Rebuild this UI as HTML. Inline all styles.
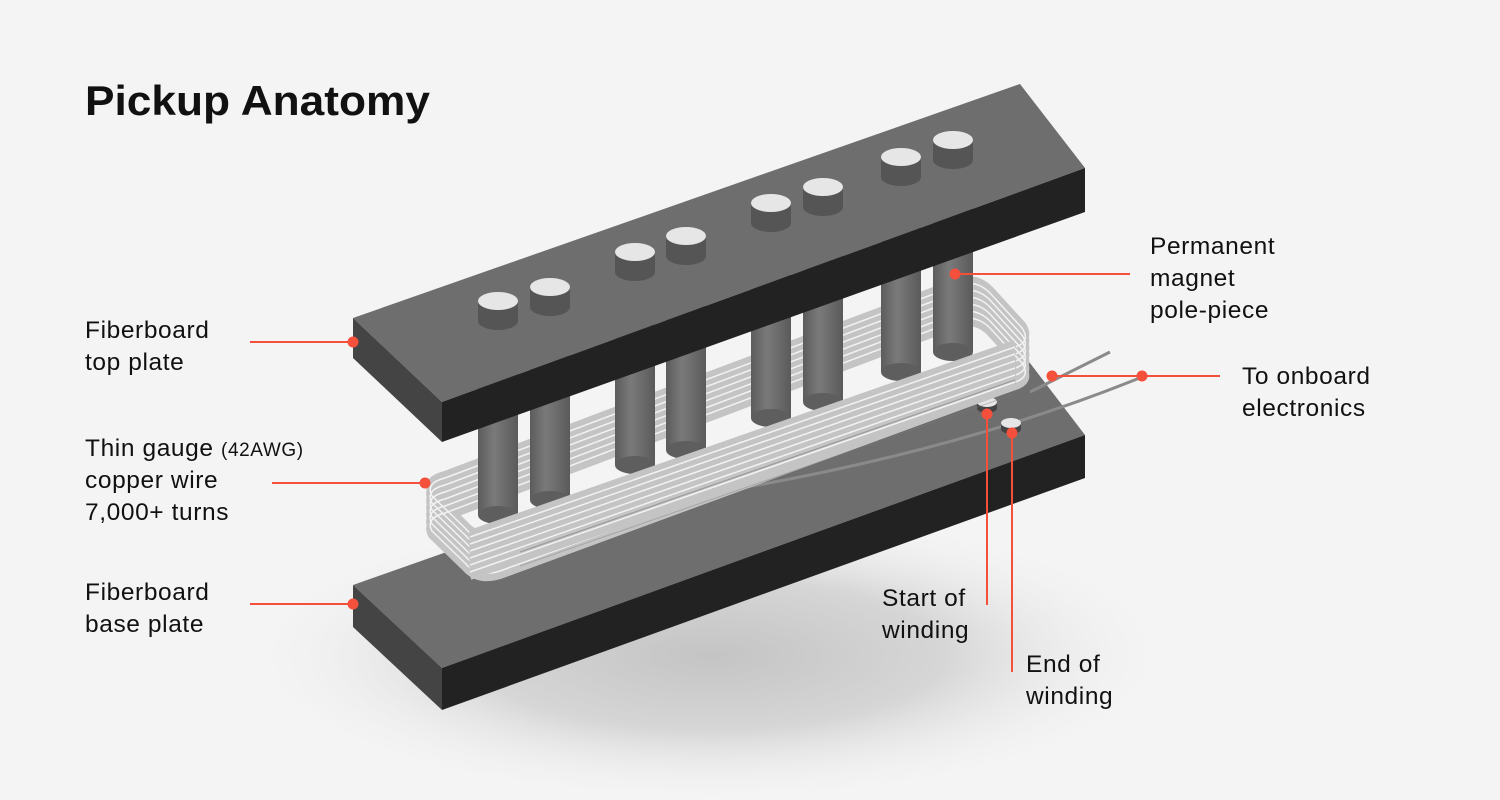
<!DOCTYPE html>
<html><head><meta charset="utf-8"><style>
html,body{margin:0;padding:0;background:#f4f4f4;}
svg{display:block}
text{font-family:"Liberation Sans",sans-serif;fill:#111;}
</style></head><body>
<svg width="1500" height="800" viewBox="0 0 1500 800" xmlns="http://www.w3.org/2000/svg">
<defs>
<radialGradient id="shadow" cx="0.5" cy="0.5" r="0.5">
<stop offset="0" stop-color="#c4c4c4"/><stop offset="0.5" stop-color="#d6d6d6"/><stop offset="1" stop-color="#f4f4f4" stop-opacity="0"/>
</radialGradient>
<linearGradient id="pole" x1="0" x2="1" y1="0" y2="0">
<stop offset="0" stop-color="#5c5c5c"/><stop offset="0.4" stop-color="#7a7a7a"/><stop offset="1" stop-color="#5a5a5a"/>
</linearGradient>
<path id="loop" d="M445,475 L955,283 Q975,275 990,290 L1022,325 Q1032,340 1012,345 L500,533 Q478,540 465,525 L432,493 Q425,480 445,475 Z"/>
</defs>
<rect width="1500" height="800" fill="#f4f4f4"/>
<ellipse cx="710" cy="655" rx="470" ry="150" fill="url(#shadow)"/>

<text x="85" y="115" font-size="42" font-weight="bold" textLength="345" lengthAdjust="spacingAndGlyphs">Pickup Anatomy</text>

<polygon points="353,585 1020,350 1085,435 442,668" fill="#6e6e6e"/>
<polygon points="442,668 1085,435 1085,478 442,710" fill="#222"/>
<polygon points="353,585 442,668 442,710 353,627" fill="#444"/>

<path d="M700,495 Q950,455 1142,377" fill="none" stroke="#8a8a8a" stroke-width="3"/>
<g>
<rect x="977" y="402" width="20" height="6" fill="#444"/><ellipse cx="987" cy="408" rx="10" ry="5" fill="#444"/><ellipse cx="987" cy="402" rx="10" ry="5" fill="#e6e6e6"/>
<rect x="1001" y="423" width="20" height="6" fill="#444"/><ellipse cx="1011" cy="429" rx="10" ry="5" fill="#444"/><ellipse cx="1011" cy="423" rx="10" ry="5" fill="#e6e6e6"/>
</g>

<g fill="none" stroke-linejoin="round">
<g stroke="#c4c4c4" stroke-width="8">
<use href="#loop" transform="translate(0,42)"/>
<use href="#loop" transform="translate(0,35)"/>
<use href="#loop" transform="translate(0,28)"/>
<use href="#loop" transform="translate(0,21)"/>
<use href="#loop" transform="translate(0,14)"/>
<use href="#loop" transform="translate(0,7)"/>
<use href="#loop"/>
</g>
<g stroke="#f2f2f2" stroke-width="1.5">
<use href="#loop" transform="translate(0,38)"/>
<use href="#loop" transform="translate(0,31)"/>
<use href="#loop" transform="translate(0,24)"/>
<use href="#loop" transform="translate(0,17)"/>
<use href="#loop" transform="translate(0,10)"/>
<use href="#loop" transform="translate(0,3)"/>
</g>
</g>

<g>
<rect x="478" y="340" width="40" height="175" fill="url(#pole)"/><ellipse cx="498" cy="515" rx="20" ry="9" fill="#5e5e5e"/>
<rect x="530" y="326" width="40" height="174" fill="url(#pole)"/><ellipse cx="550" cy="500" rx="20" ry="9" fill="#5e5e5e"/>
<rect x="615" y="292" width="40" height="173" fill="url(#pole)"/><ellipse cx="635" cy="465" rx="20" ry="9" fill="#5e5e5e"/>
<rect x="666" y="276" width="40" height="174" fill="url(#pole)"/><ellipse cx="686" cy="450" rx="20" ry="9" fill="#5e5e5e"/>
<rect x="751" y="243" width="40" height="175" fill="url(#pole)"/><ellipse cx="771" cy="418" rx="20" ry="9" fill="#5e5e5e"/>
<rect x="803" y="227" width="40" height="175" fill="url(#pole)"/><ellipse cx="823" cy="402" rx="20" ry="9" fill="#5e5e5e"/>
<rect x="881" y="197" width="40" height="175" fill="url(#pole)"/><ellipse cx="901" cy="372" rx="20" ry="9" fill="#5e5e5e"/>
<rect x="933" y="180" width="40" height="172" fill="url(#pole)"/><ellipse cx="953" cy="352" rx="20" ry="9" fill="#5e5e5e"/>
</g>

<g fill="none">
<g stroke="#c4c4c4" stroke-width="8">
<path d="M470,534 L1015,344" /><path d="M470,541 L1015,351"/><path d="M470,548 L1015,358"/><path d="M470,555 L1015,365"/><path d="M470,562 L1015,372"/><path d="M470,569 L1015,379"/><path d="M470,576 L1015,386"/>
</g>
<g stroke="#f2f2f2" stroke-width="1.5">
<path d="M470,537 L1015,347"/><path d="M470,544 L1015,354"/><path d="M470,551 L1015,361"/><path d="M470,558 L1015,368"/><path d="M470,565 L1015,375"/><path d="M470,572 L1015,382"/>
</g>
<g stroke="#7a7a7a" stroke-width="1"><path d="M520,552 L1015,380" opacity="0.6"/><path d="M520,566 L1015,394" opacity="0.4"/></g>
</g>
<path d="M1030,392 L1110,352" stroke="#8a8a8a" stroke-width="3"/>

<polygon points="353,318 1020,84 1085,168 442,402" fill="#6e6e6e"/>
<polygon points="442,402 1085,168 1085,212 442,442" fill="#222"/>
<polygon points="353,318 442,402 442,442 353,358" fill="#444"/>

<g>
<g><rect x="478" y="301" width="40" height="20" fill="#555"/><ellipse cx="498" cy="321" rx="20" ry="9" fill="#555"/><ellipse cx="498" cy="301" rx="20" ry="9" fill="#e6e6e6"/></g>
<g><rect x="530" y="287" width="40" height="20" fill="#555"/><ellipse cx="550" cy="307" rx="20" ry="9" fill="#555"/><ellipse cx="550" cy="287" rx="20" ry="9" fill="#e6e6e6"/></g>
<g><rect x="615" y="252" width="40" height="20" fill="#555"/><ellipse cx="635" cy="272" rx="20" ry="9" fill="#555"/><ellipse cx="635" cy="252" rx="20" ry="9" fill="#e6e6e6"/></g>
<g><rect x="666" y="236" width="40" height="20" fill="#555"/><ellipse cx="686" cy="256" rx="20" ry="9" fill="#555"/><ellipse cx="686" cy="236" rx="20" ry="9" fill="#e6e6e6"/></g>
<g><rect x="751" y="203" width="40" height="20" fill="#555"/><ellipse cx="771" cy="223" rx="20" ry="9" fill="#555"/><ellipse cx="771" cy="203" rx="20" ry="9" fill="#e6e6e6"/></g>
<g><rect x="803" y="187" width="40" height="20" fill="#555"/><ellipse cx="823" cy="207" rx="20" ry="9" fill="#555"/><ellipse cx="823" cy="187" rx="20" ry="9" fill="#e6e6e6"/></g>
<g><rect x="881" y="157" width="40" height="20" fill="#555"/><ellipse cx="901" cy="177" rx="20" ry="9" fill="#555"/><ellipse cx="901" cy="157" rx="20" ry="9" fill="#e6e6e6"/></g>
<g><rect x="933" y="140" width="40" height="20" fill="#555"/><ellipse cx="953" cy="160" rx="20" ry="9" fill="#555"/><ellipse cx="953" cy="140" rx="20" ry="9" fill="#e6e6e6"/></g>
</g>

<g stroke="#f4503c" stroke-width="2" fill="none">
<line x1="250" y1="342" x2="353" y2="342"/>
<line x1="272" y1="483" x2="425" y2="483"/>
<line x1="250" y1="604" x2="353" y2="604"/>
<line x1="955" y1="274" x2="1130" y2="274"/>
<line x1="1052" y1="376" x2="1220" y2="376"/>
<line x1="987" y1="414" x2="987" y2="605"/>
<line x1="1012" y1="433" x2="1012" y2="672"/>
</g>
<g fill="#f4503c">
<circle cx="353" cy="342" r="5.5"/><circle cx="425" cy="483" r="5.5"/><circle cx="353" cy="604" r="5.5"/>
<circle cx="955" cy="274" r="5.5"/><circle cx="1052" cy="376" r="5.5"/><circle cx="1142" cy="376" r="5.5"/>
<circle cx="987" cy="414" r="5.5"/><circle cx="1012" cy="433" r="5.5"/>
</g>

<g font-size="24.5" letter-spacing="0.6">
<text x="85" y="338">Fiberboard</text><text x="85" y="370">top plate</text>
<text x="85" y="456">Thin gauge <tspan font-size="19">(42AWG)</tspan></text><text x="85" y="488">copper wire</text><text x="85" y="520">7,000+ turns</text>
<text x="85" y="600">Fiberboard</text><text x="85" y="632">base plate</text>
<text x="1150" y="254">Permanent</text><text x="1150" y="286">magnet</text><text x="1150" y="318">pole-piece</text>
<text x="1242" y="384">To onboard</text><text x="1242" y="416">electronics</text>
<text x="882" y="606">Start of</text><text x="882" y="638">winding</text>
<text x="1026" y="672">End of</text><text x="1026" y="704">winding</text>
</g>
</svg>
</body></html>
